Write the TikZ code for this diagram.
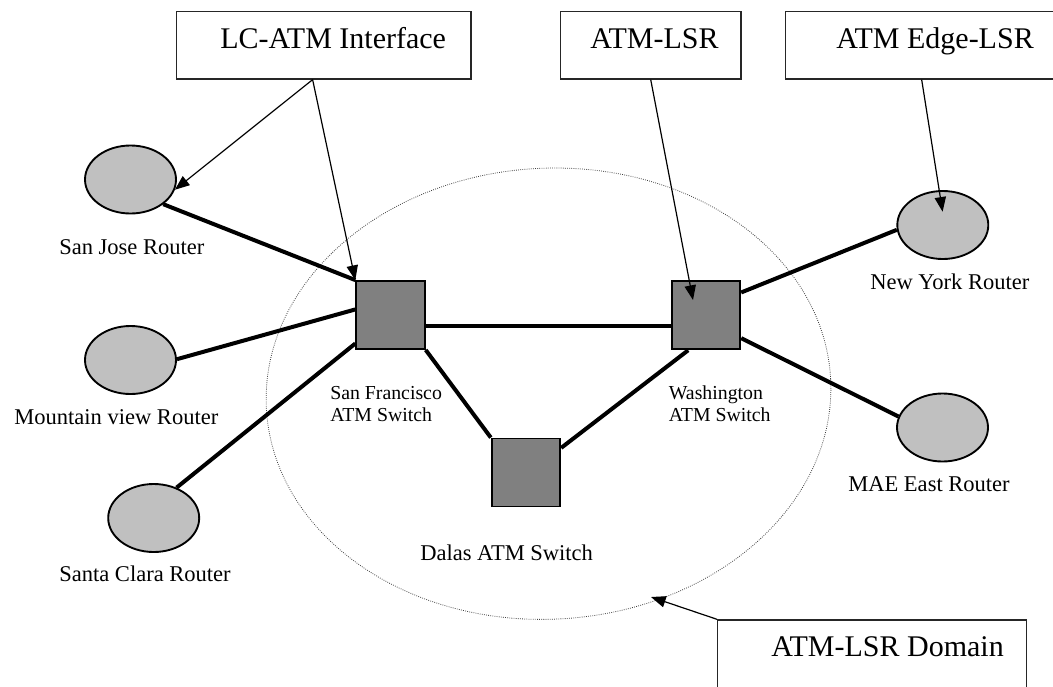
\documentclass[tikz,border=0pt]{standalone}
\usepackage{fontspec}
\setmainfont{Liberation Serif}
\usetikzlibrary{arrows.meta,shapes.geometric,calc}
\newdimen\pxu \pxu=0.75pt
\definecolor{routergray}{HTML}{C0C0C0}
\definecolor{switchgray}{HTML}{808080}
\begin{document}
\begin{tikzpicture}[x=0.75pt,y=-0.75pt,
  router/.style={ellipse, draw, line width=1.4pt, fill=routergray,
    minimum width=91\pxu, minimum height=68\pxu, inner sep=0pt},
  switch/.style={rectangle, draw, line width=1.4pt, fill=switchgray,
    minimum width=68.5\pxu, minimum height=68\pxu, inner sep=0pt},
  callout/.style={rectangle, draw=black!85, line width=1pt, anchor=north west, inner sep=0pt},
  bigtext/.style={font=\fontsize{22.5}{27}\selectfont, anchor=base west, inner sep=0pt},
  rtext/.style={font=\fontsize{16.9}{20}\selectfont, anchor=base west, inner sep=0pt},
  stext/.style={font=\fontsize{14.85}{17}\selectfont, anchor=base west, inner sep=0pt, align=left},
  link/.style={line width=3pt},
  pointer/.style={line width=0.9pt, -{Triangle[length=11pt,width=8.5pt]}},
]
\useasboundingbox (0,0) rectangle (1053,686);

% label-switching domain
\node[ellipse, draw=black!75, densely dotted, line width=0.6pt,
  minimum width=565\pxu, minimum height=451\pxu, inner sep=0pt, rotate=3] (domain) at (548.5,393.7) {};

% routers
\node[router] (sj)  at (130.5,179.5) {};
\node[router] (mv)  at (130.5,360) {};
\node[router] (sc)  at (153.7,518) {};
\node[router] (ny)  at (942.8,225) {};
\node[router] (mae) at (942.5,427.5) {};

% ATM switches
\node[switch] (sf)   at (390.5,315) {};
\node[switch] (wash) at (706,315.3) {};
\node[switch] (dal)  at (526,472.5) {};

% physical links
\draw[link] (sj.-37) -- (sf.north west);
\draw[link] (mv.1) -- (sf.171);
\draw[link] (sc.53) -- (sf.219);
\draw[link] (sf.-17.7) -- (sf.-17.7 -| wash.west);
\draw[link] (sf.south east) -- (dal.north west);
\draw[link] (dal.35.8) -- (wash.243.4);
\draw[link] (wash.33) -- (ny.186);
\draw[link] (wash.-33) -- (mae.166);

% node labels (two-line labels are anchored on their last line)
\node[rtext] (sjt)  at (59,254)   {San Jose Router};
\node[rtext] (mvt)  at (14,424)   {Mountain view Router};
\node[rtext] (sct)  at (59,581.7) {Santa Clara Router};
\node[rtext] (nyt)  at (870,289.3) {New York Router};
\node[rtext] (maet) at (848,491.7) {MAE East Router};
\node[rtext] (dalt) at (420,560)  {Dalas ATM Switch};
\node[stext] (sft)  at (330,421.7)  {San Francisco\\ATM Switch};
\node[stext] (wt)   at (668.6,421.7) {Washington\\ATM Switch};

% callout boxes
\node[callout, minimum width=294.3\pxu, minimum height=67.6\pxu] (lc)  at (176,10.7) {};
\node[callout, minimum width=180.5\pxu, minimum height=67.6\pxu] (lsr) at (559.8,10.7) {};
\node[callout, minimum width=272\pxu, minimum height=67.6\pxu] (edge) at (785,10.7) {};
\node[callout, minimum width=309\pxu, minimum height=80\pxu] (dombox) at (717,619.3) {};
\node[bigtext] (lct)   at (220,48.3) {LC-ATM Interface};
\node[bigtext] (lsrt)  at (590,48.3) {ATM-LSR};
\node[bigtext] (edget) at (836,48.3) {ATM Edge-LSR};
\node[bigtext] (domt)  at (771,656.7) {ATM-LSR Domain};

% callout pointers
\coordinate (lsrtip)  at (693,300);
\coordinate (edgetip) at (942.6,211.7);
\coordinate (domtip)  at (651,597);
\draw[pointer] (lc.252) -- (sj.-13);
\draw[pointer] (lc.252) -- (sf.north west);
\draw[pointer] (lsr.south) -- (lsrtip);
\draw[pointer] (edge.south) -- (edgetip);
\draw[pointer] (dombox.north west) -- (domtip);
\end{tikzpicture}
\end{document}
